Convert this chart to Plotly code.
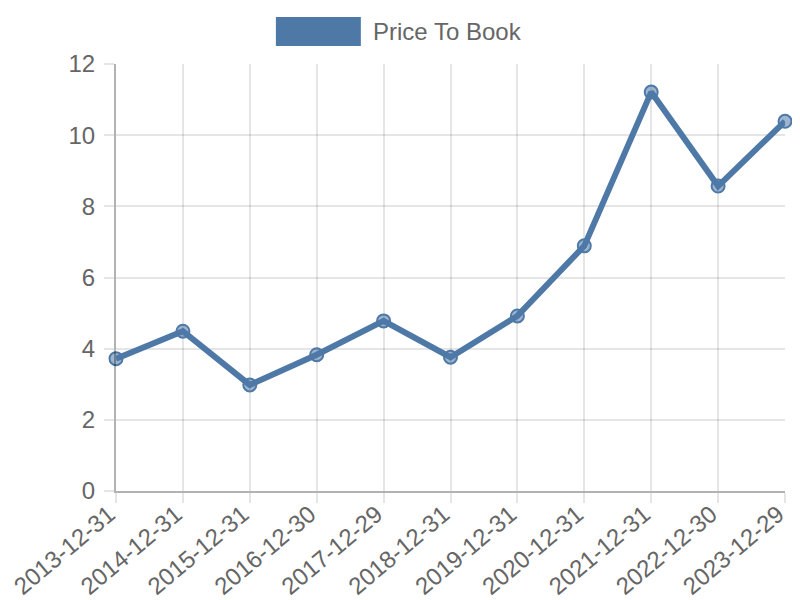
import plotly.graph_objects as go

# Data
dates = ['2013-12-31', '2014-12-31', '2015-12-31', '2016-12-30', '2017-12-29', '2018-12-31',
         '2019-12-31', '2020-12-31', '2021-12-31', '2022-12-30', '2023-12-29']
price_to_book = [3.72, 4.49, 2.98, 3.83, 4.78, 3.76, 4.92, 6.89, 11.21, 8.57, 10.39]
y_ticks = [0, 2, 4, 6, 8, 10, 12]

line_color = 'rgb(78, 121, 167)'
text_color = '#666666'
grid_color = 'rgba(0,0,0,0.1)'
font_family = 'Liberation Sans, Arial, sans-serif'

fig = go.Figure()
fig.add_trace(go.Scatter(
    x=dates,
    y=price_to_book,
    mode='lines+markers',
    name='Price To Book',
    line=dict(color=line_color, width=6),
    marker=dict(size=13, color='rgba(78, 121, 167, 0.55)', line=dict(color=line_color, width=2)),
    cliponaxis=False,
    showlegend=False,
))

# Chart.js-style legend box above the plot
fig.add_shape(type='rect', xref='paper', yref='paper',
              x0=0.239, x1=0.366, y0=1.042, y1=1.110,
              fillcolor=line_color, line=dict(width=0))
fig.add_annotation(xref='paper', yref='paper', x=0.381, y=1.076,
                   text='Price To Book', showarrow=False,
                   xanchor='left', yanchor='middle',
                   font=dict(size=24, color=text_color, family=font_family))

# page body has an 8px margin, so the figure is drawn slightly smaller
fig.update_layout(
    width=792,
    height=592,
    margin=dict(l=108, r=15, t=56, b=109),
    paper_bgcolor='white',
    plot_bgcolor='white',
    font=dict(family=font_family, size=24, color=text_color),
    xaxis=dict(
        type='category',
        range=[0, len(dates) - 1],
        tickangle=-40,
        showgrid=True,
        gridcolor=grid_color,
        gridwidth=2,
        showline=True,
        linecolor='rgba(0,0,0,0.3)',
        linewidth=2,
        ticks='outside',
        ticklen=10,
        tickwidth=2,
        tickcolor=grid_color,
        ticklabelstandoff=-12,
        ticklabelshift=-7,
        automargin=False,
    ),
    yaxis=dict(
        range=[0, 12],
        tickvals=y_ticks,
        showgrid=True,
        gridcolor=grid_color,
        gridwidth=2,
        zeroline=False,
        showline=True,
        linecolor='rgba(0,0,0,0.3)',
        linewidth=2,
        ticks='outside',
        ticklen=10,
        tickwidth=2,
        tickcolor=grid_color,
        ticklabelstandoff=4,
        automargin=False,
    ),
)

fig.write_html('out.html')
